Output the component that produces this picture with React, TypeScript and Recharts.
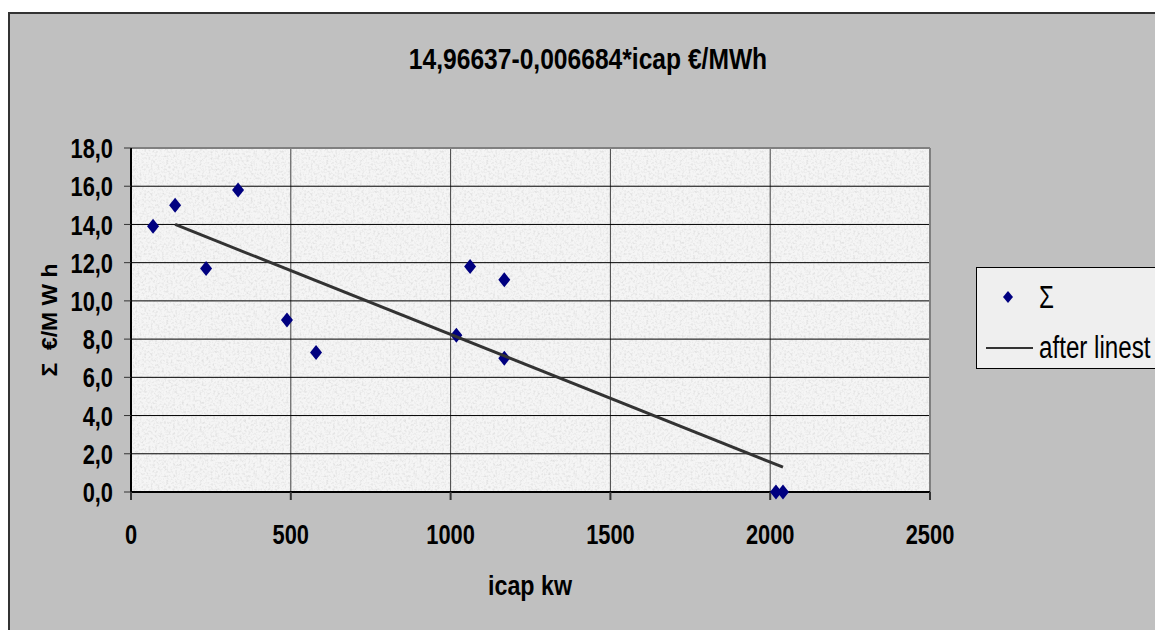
import { ScatterChart, Scatter, XAxis, YAxis, CartesianGrid, Legend, ReferenceLine } from "recharts";

const capacity = [69, 138, 235, 335, 488, 579, 1018, 1061, 1168, 1168, 2018, 2040];
const costPerMwh = [13.9, 15.0, 11.7, 15.8, 9.0, 7.3, 8.2, 11.8, 11.1, 7.0, 0.0, 0.0];
const trendX = [138, 2040];
const trendY = [14.0, 1.3];
const xTicks = [0, 500, 1000, 1500, 2000, 2500];
const yTicks = [0, 2, 4, 6, 8, 10, 12, 14, 16, 18];

const points = capacity.map((x, i) => ({ x, y: costPerMwh[i] }));
const trend = trendX.map((x, i) => ({ x, y: trendY[i] }));

const FONT = '"Liberation Sans", Arial, sans-serif';
const SQUEEZE = 0.78;

const Diamond = (props: any) => {
  const { cx, cy } = props;
  return <polygon points={`${cx},${cy - 7.5} ${cx + 6},${cy} ${cx},${cy + 7.5} ${cx - 6},${cy}`} fill="#000080" />;
};

const Nothing = () => <g />;

const XTick = (props: any) => {
  const { x, y, payload } = props;
  return (
    <text
      transform={`translate(${x},${y}) scale(${SQUEEZE},1)`}
      textAnchor="middle"
      dy="0.71em"
      fill="#000"
      fontFamily={FONT}
      fontWeight="bold"
      fontSize={28}
    >
      {payload.value}
    </text>
  );
};

const YTick = (props: any) => {
  const { x, y, payload } = props;
  return (
    <text
      transform={`translate(${x},${y}) scale(${SQUEEZE},1)`}
      textAnchor="end"
      dy="0.36em"
      fill="#000"
      fontFamily={FONT}
      fontWeight="bold"
      fontSize={28}
    >
      {Number(payload.value).toFixed(1).replace(".", ",")}
    </text>
  );
};

const squeezed = (size: number, bold: boolean, scale = SQUEEZE): React.CSSProperties => ({
  position: "absolute",
  fontFamily: FONT,
  fontWeight: bold ? "bold" : "normal",
  fontSize: size,
  lineHeight: 1,
  whiteSpace: "pre",
  transformOrigin: "0 0",
  transform: `scale(${scale},1)`,
});

const LegendBox = () => (
  <div
    style={{
      width: 190,
      height: 100,
      border: "1px solid #000",
      background: "#efefef",
      color: "#000",
      position: "relative",
    }}
  >
    <svg width={14} height={14} style={{ position: "absolute", left: 24, top: 22 }}>
      <polygon points="7,1 12,7 7,13 2,7" fill="#000080" />
    </svg>
    <span style={{ ...squeezed(31, false), left: 62, top: 14 }}>Σ</span>
    <div style={{ position: "absolute", left: 9, top: 79, width: 47, borderTop: "2px solid #333" }} />
    <span style={{ ...squeezed(31, false), left: 62, top: 64 }}>after linest</span>
  </div>
);

export default function App() {
  return (
    <div style={{ position: "fixed", left: 0, top: 0, width: 1155, height: 630, background: "#fff", overflow: "hidden" }}>
      <div
        style={{
          position: "absolute",
          left: 8,
          top: 12,
          width: 1200,
          height: 700,
          background: "#c0c0c0",
          borderLeft: "2px solid #333",
          borderTop: "2px solid #333",
        }}
      />
      <div
        style={{
          position: "absolute",
          left: 588,
          top: 44,
          transform: "translateX(-50%) scale(0.82,1)",
          fontFamily: FONT,
          fontWeight: "bold",
          fontSize: 30,
          lineHeight: 1,
          whiteSpace: "nowrap",
        }}
      >
        14,96637-0,006684*icap €/MWh
      </div>
      <div
        style={{
          position: "absolute",
          left: 530,
          top: 572,
          transform: `translateX(-50%) scale(${SQUEEZE + 0.05},1)`,
          fontFamily: FONT,
          fontWeight: "bold",
          fontSize: 28,
          lineHeight: 1,
          whiteSpace: "nowrap",
        }}
      >
        icap kw
      </div>
      <div
        style={{
          position: "absolute",
          left: 50,
          top: 320,
          transform: "translate(-50%, -50%) rotate(-90deg) scale(0.85,0.85)",
          fontFamily: FONT,
          fontWeight: "bold",
          fontSize: 27,
          lineHeight: 1,
          whiteSpace: "pre",
        }}
      >
        {"Σ  €/M W h"}
      </div>
      <div style={{ position: "absolute", left: 0, top: 0 }}>
        <ScatterChart width={1155} height={630} margin={{ top: 148, right: 225, bottom: 78, left: 61 }}>
          <defs>
            <filter id="noise" x="0" y="0" width="100%" height="100%">
              <feTurbulence type="fractalNoise" baseFrequency="0.45" numOctaves={2} seed={4} />
              <feColorMatrix type="matrix" values="0 0 0 0 0.5  0 0 0 0 0.5  0 0 0 0 0.5  1.8 0 0 0 -0.8" />
            </filter>
            <pattern id="tex" width={160} height={160} patternUnits="userSpaceOnUse">
              <rect width={160} height={160} fill="#f5f5f5" />
              <rect width={160} height={160} filter="url(#noise)" opacity={0.5} />
            </pattern>
          </defs>
          <CartesianGrid
            fill="url(#tex)"
            stroke="#444"
            strokeWidth={1}
            horizontal={false}
            verticalValues={xTicks}
          />
          <CartesianGrid
            stroke="#000"
            strokeWidth={1}
            vertical={false}
            horizontalValues={yTicks.slice(0, -1)}
          />
          <ReferenceLine y={18} stroke="#808080" strokeWidth={2} />
          <ReferenceLine x={2500} stroke="#808080" strokeWidth={2} />
          <XAxis
            type="number"
            dataKey="x"
            domain={[0, 2500]}
            ticks={xTicks}
            tickSize={8}
            tickMargin={24}
            height={60}
            axisLine={{ stroke: "#000", strokeWidth: 2 }}
            tickLine={{ stroke: "#333", strokeWidth: 2 }}
            tick={<XTick />}
          />
          <YAxis
            type="number"
            dataKey="y"
            domain={[0, 18]}
            ticks={yTicks}
            width={70}
            tickSize={7}
            tickMargin={11}
            axisLine={{ stroke: "#000", strokeWidth: 2 }}
            tickLine={{ stroke: "#333", strokeWidth: 1 }}
            tick={<YTick />}
          />
          <Legend
            layout="horizontal"
            verticalAlign="middle"
            align="center"
            content={<LegendBox />}
            wrapperStyle={{ position: "absolute", left: 976, top: 267, width: 190, height: 102 }}
          />
          <Scatter name="Σ" data={points} shape={<Diamond />} isAnimationActive={false} />
          <Scatter
            name="after linest"
            data={trend}
            line={{ stroke: "#333", strokeWidth: 3 }}
            shape={<Nothing />}
            isAnimationActive={false}
          />
        </ScatterChart>
      </div>
    </div>
  );
}
